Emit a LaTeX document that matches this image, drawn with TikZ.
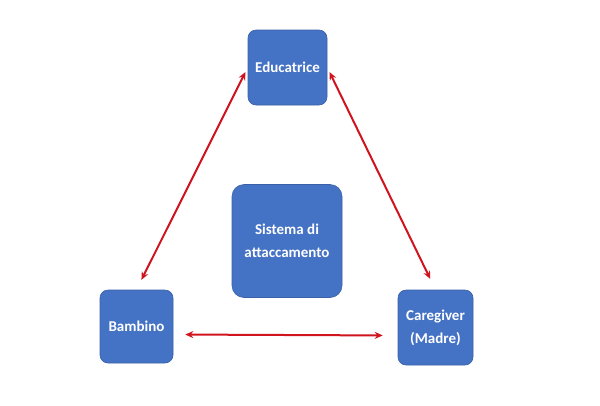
\documentclass[tikz,border=0pt]{standalone}
\usepackage{fontspec}
\setmainfont{Carlito}
\usepackage{tikz}
\usetikzlibrary{arrows.meta}
\definecolor{boxblue}{RGB}{68,114,196}
\definecolor{linkred}{RGB}{208,20,30}

\begin{document}
\begin{tikzpicture}[x=1pt, y=-1pt,
box/.style={rectangle, rounded corners=8pt, fill=boxblue, draw=boxblue!85!black, line width=0.6pt,
  text=white, font=\fontsize{15}{23}\selectfont\bfseries, align=center, inner sep=0pt},
link/.style={draw=linkred, line width=2pt, {Stealth[length=8pt,width=7pt]}-{Stealth[length=8pt,width=7pt]}}]
\useasboundingbox (0,0) rectangle (600,405);
\node[box, minimum width=79pt, minimum height=75pt] (edu) at (287.5,67.5) {Educatrice};
\node[box, minimum width=110pt, minimum height=113pt, rounded corners=12pt] (sys) at (287,241) {Sistema di\\attaccamento};
\node[box, minimum width=73pt, minimum height=73pt] (bam) at (136.5,326.5) {Bambino};
\node[box, minimum width=75pt, minimum height=75pt] (care) at (435.5,327.5) {Caregiver\\(Madre)};
\draw[link, shorten <=5pt, shorten >=11pt] (edu.west) -- (bam.north);
\draw[link, shorten <=5pt, shorten >=12pt] (edu.east) -- (care.north);
\draw[link, shorten <=12pt, shorten >=15pt] ([yshift=-8pt]bam.east) -- ([yshift=-8pt]care.west);
\end{tikzpicture}
\end{document}
